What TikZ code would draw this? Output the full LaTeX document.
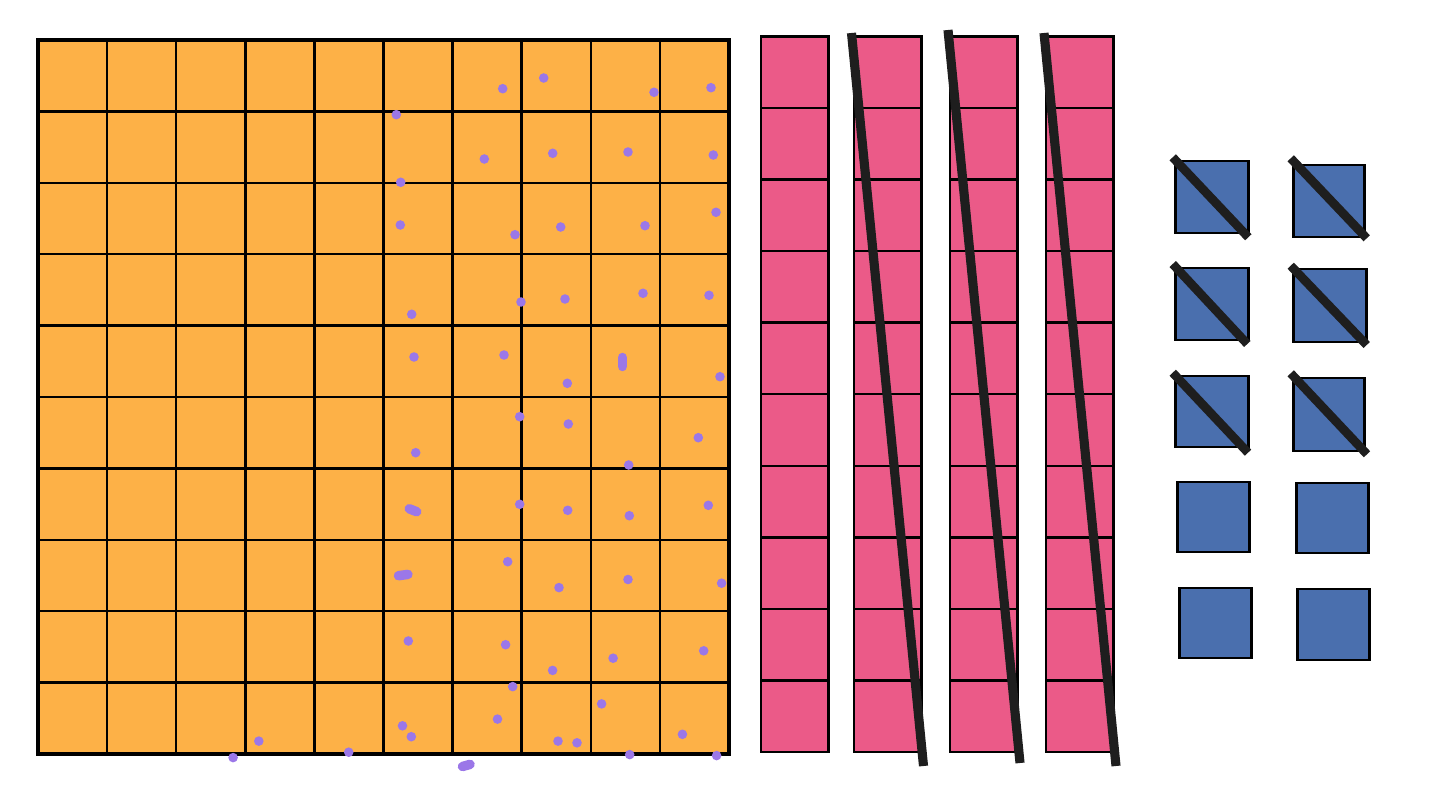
\documentclass[tikz,border=0pt]{standalone}
\usetikzlibrary{calc}
\definecolor{bhund}{HTML}{FDB147}
\definecolor{brod}{HTML}{EB5A88}
\definecolor{bunit}{HTML}{4A6FAE}
\definecolor{bdot}{HTML}{9B77E8}
\definecolor{bstrike}{HTML}{1E1E1E}
\tikzset{
  hundred/.style={fill=bhund, draw=black, line width=2.2pt},
  gridline/.style={draw=black, line width=1.4pt},
  rodcell/.style={fill=brod, draw=black, line width=1.4pt},
  unitsq/.style={fill=bunit, draw=black, line width=1.7pt},
  strike/.style={draw=bstrike, line width=5.2pt},
  unitstrike/.style={draw=bstrike, line width=5pt},
  pdot/.style={fill=bdot},
  smear/.style={draw=bdot, line width=0.19cm, line cap=round}
}
\begin{document}
\begin{tikzpicture}[x=0.02cm, y=-0.02cm]
  \useasboundingbox (0,0) rectangle (1433,800);
  % hundred square
  \fill[bhund] (38,40) rectangle (729,754);
  \foreach \k in {1,...,9} {
    \draw[gridline] ({38+69.1*\k},40) -- ({38+69.1*\k},754);
    \draw[gridline] (38,{40+71.4*\k}) -- (729,{40+71.4*\k});
  }
  \draw[hundred, fill=none] (38,40) rectangle (729,754);
  % dots
  \foreach \px/\py in {502.7/88.7, 543.7/78, 654/92.3, 711/87.7, 396.3/114.7,
      484.3/159, 552.7/153.3, 628/152, 713.3/155, 400.7/182.3, 400.3/225,
      515/234.7, 560.7/227, 645/225.7, 716/212.3, 411.7/314.3, 521/302,
      565/299, 643/293.3, 709/295.3, 414/357, 504/355, 567.3/383.3,
      720/376.7, 415.7/452.7, 519.7/416.7, 568.3/424, 698.3/437.7,
      628.7/465, 519.7/504.3, 567.7/510.3, 629.3/515.7, 708.3/505.3,
      507.7/561.7, 559/587.6, 628/579.5, 721.6/583.2, 408.3/641,
      505.6/644.7, 552.6/670.4, 613.1/658.2, 703.7/650.8, 512.7/686.6,
      601.6/703.9, 497.5/719.1, 402.5/725.8, 411.3/736.7, 258.8/741.1,
      233.1/757.6, 348.7/752.2, 558/741.1, 577/742.8, 682.4/734.3,
      629.7/754.6, 716.6/755.6}
    \fill[pdot] (\px,\py) circle (4.8);
  \draw[smear] (622.3,357.5) -- (622.3,366.5);
  \draw[smear] (409.3,508.8) -- (416.7,511.7);
  \draw[smear] (398.5,575.7) -- (407.9,574.4);
  \draw[smear] (462.5,766.5) -- (470,764.4);
  % tens rods
  \foreach \rx in {761,854,950,1046} {
    \foreach \c in {0,...,9}
      \draw[rodcell] (\rx,{36.5+71.55*\c}) rectangle ({\rx+67.3},{36.5+71.55*(\c+1)});
  }
  \foreach \ax/\ay/\bx/\by in {851.5/33/923.5/766, 948/30/1020/763, 1044/33/1116/766}
    \draw[strike] (\ax,\ay) -- (\bx,\by);
  % ones
  \foreach \ux/\uy/\uw/\uh in {1175/161/73/72, 1293/165/71/72, 1175/268/73/72,
      1293/269/73/73, 1175/376/73/71, 1293/378/71/73, 1177/482/72/70,
      1296/483/72/70, 1179/588/72/70, 1297/589/72/71}
    \draw[unitsq] (\ux,\uy) rectangle ({\ux+\uw},{\uy+\uh});
  \foreach \ax/\ay/\bx/\by in {1172.7/157.3/1248.3/237.3, 1290.7/158.3/1366.7/238.3,
      1172.7/264/1247.3/344, 1290.7/265.7/1366.7/345,
      1172.7/372.7/1248/452.7, 1290.7/373.3/1367/454.3}
    \draw[unitstrike] (\ax,\ay) -- (\bx,\by);
\end{tikzpicture}
\end{document}
